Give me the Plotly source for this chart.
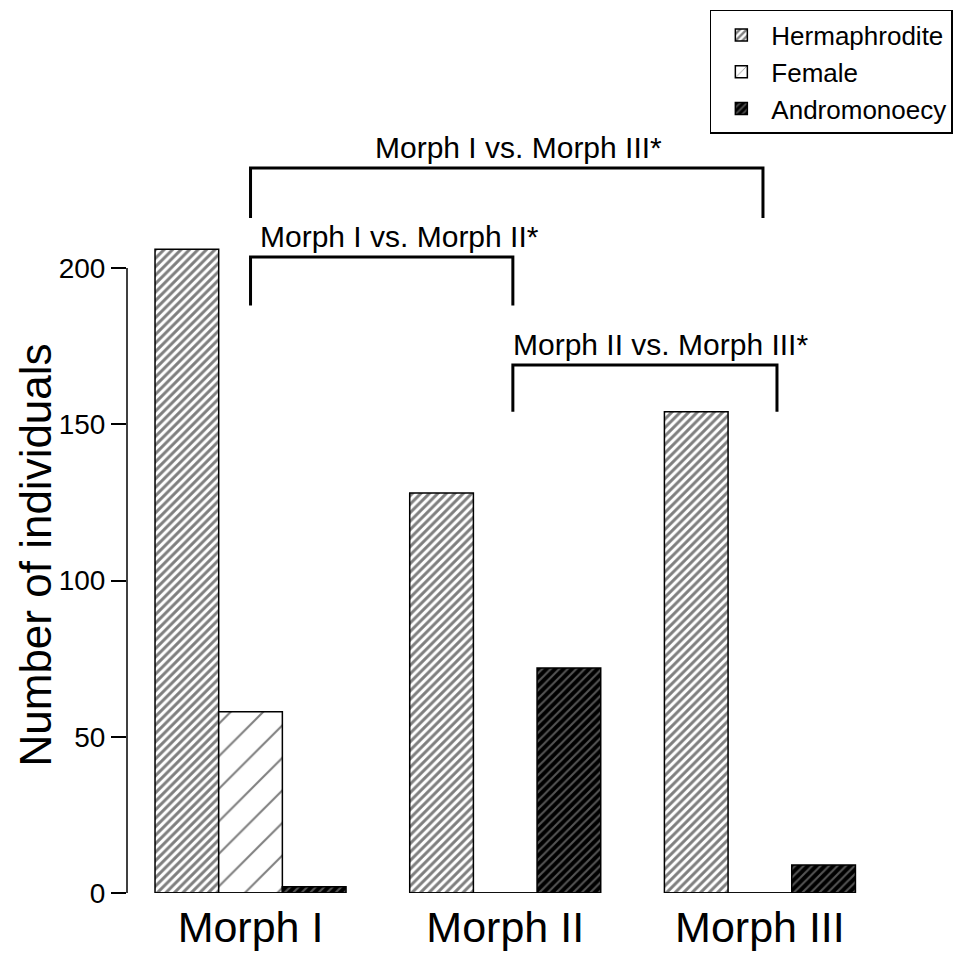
import plotly.graph_objects as go

# Counts of individuals per sexual phenotype in each morph
morphs = ["Morph I", "Morph II", "Morph III"]
hermaphrodite = [206, 128, 154]
female = [58, 0, 0]
andromonoecy = [2, 72, 9]

y_ticks = [0, 50, 100, 150, 200]

# Pairwise comparisons: (label, left category index, right category index,
#                        bracket top, bracket foot, label height)
comparisons = [
    ("Morph I vs. Morph III*", 0.0, 2.012, 232, 216, 238.5),
    ("Morph I vs. Morph II*", 0.0, 1.03, 203.5, 188, 210),
    ("Morph II vs. Morph III*", 1.03, 2.067, 169, 154, 175.5),
]
label_x = [1.054, 0.583, 1.608]

FONT = "Arial, Liberation Sans, sans-serif"
line_style = dict(color="black", width=1.5)

fig = go.Figure()
fig.add_trace(go.Bar(
    name="Hermaphrodite", x=morphs, y=hermaphrodite,
    marker=dict(color="white", line=line_style,
                pattern=dict(shape="/", size=6, solidity=0.5,
                             fgcolor="black", bgcolor="white")),
))
fig.add_trace(go.Bar(
    name="Female", x=morphs, y=female,
    marker=dict(color="white", line=line_style,
                pattern=dict(shape="/", size=23, solidity=0.09,
                             fgcolor="black", bgcolor="white")),
))
fig.add_trace(go.Bar(
    name="Andromonoecy", x=morphs, y=andromonoecy,
    marker=dict(color="black", line=line_style,
                pattern=dict(shape="/", size=6, solidity=0.35,
                             fgcolor="#a8a8a8", bgcolor="black")),
))

shapes = []
# baseline under each group of bars
for i in range(len(morphs)):
    shapes.append(dict(type="line", xref="x", yref="y",
                       x0=i - 0.375, x1=i + 0.375, y0=0, y1=0,
                       line=dict(color="black", width=1.5)))
# y axis spine limited to the tick range
shapes.append(dict(type="line", xref="paper", yref="y",
                   x0=0, x1=0, y0=y_ticks[0], y1=y_ticks[-1],
                   line=dict(color="black", width=1.5)))

annotations = []
for (label, xa, xb, top, foot, ty), lx in zip(comparisons, label_x):
    shapes.append(dict(type="path", xref="x", yref="y",
                       path=f"M {xa},{foot} L {xa},{top} L {xb},{top} L {xb},{foot}",
                       line=dict(color="black", width=3)))
    annotations.append(dict(text=label, x=lx, y=ty, xref="x", yref="y",
                            showarrow=False, font=dict(size=30, color="black", family=FONT),
                            xanchor="center", yanchor="middle"))

annotations.append(dict(text="Number of individuals", xref="paper", yref="y",
                        x=0, y=108, xshift=-92, textangle=-90, showarrow=False,
                        font=dict(size=44, color="black", family=FONT),
                        xanchor="center", yanchor="middle"))

fig.update_layout(
    width=964, height=958,
    margin=dict(l=127, r=64, t=100, b=65, autoexpand=False),
    paper_bgcolor="white", plot_bgcolor="white",
    barmode="group", bargap=0.25, bargroupgap=0,
    font=dict(family=FONT, color="black"),
    shapes=shapes, annotations=annotations,
    showlegend=True,
    legend=dict(x=0.754, y=1.1135, xanchor="left", yanchor="top",
                bordercolor="black", borderwidth=1.5, bgcolor="white",
                font=dict(size=26, color="black", family=FONT),
                itemwidth=50, traceorder="normal"),
    xaxis=dict(range=[-0.485, 2.55], showline=False, showgrid=False,
               zeroline=False, ticks="", tickfont=dict(size=43),
               ticklabelstandoff=5, automargin=False),
    yaxis=dict(range=[0, 253.76], showline=False, showgrid=False,
               zeroline=False, tickvals=y_ticks, ticks="outside",
               ticklen=15, tickwidth=1.5, tickcolor="black",
               tickfont=dict(size=28), automargin=False),
)

fig.write_html("out.html")
